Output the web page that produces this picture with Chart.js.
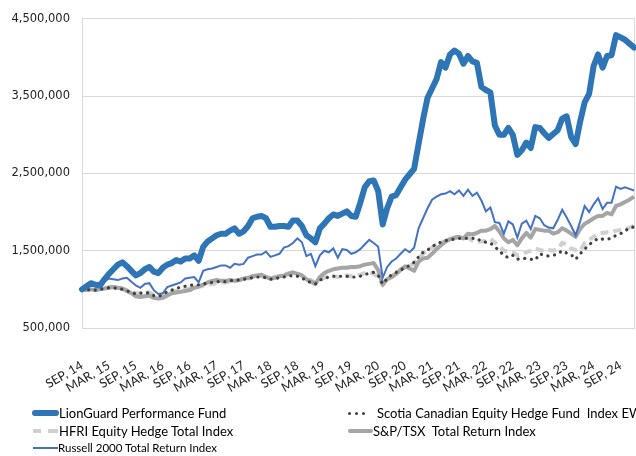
<!DOCTYPE html>
<html><head><meta charset="utf-8">
<script src="https://cdn.jsdelivr.net/npm/chart.js@4"></script>
<style>
html,body{margin:0;padding:0;background:#fff;}
#wrap{position:relative;width:636px;height:456px;overflow:hidden;background:#fff;}
#c{position:absolute;left:0;top:0;}
.lg{position:absolute;font-family:Lato,"Open Sans",sans-serif;font-size:13px;line-height:16px;color:#000;white-space:pre;}
.sm{font-size:11.5px;line-height:14px;}
.sw{position:absolute;}
</style></head><body>
<div id="wrap">
<canvas id="c" width="636" height="456"></canvas>
<div class="sw" style="left:32px;top:410px;width:27px;height:6px;border-radius:3px;background:#2E75B6"></div>
<div class="lg" style="left:59px;top:405px">LionGuard Performance Fund</div>
<div class="sw" style="left:33px;top:429px;width:8px;height:4px;background:#D0D0D0"></div>
<div class="sw" style="left:48px;top:429px;width:10px;height:4px;background:#D0D0D0"></div>
<div class="lg" style="left:59px;top:423px">HFRI Equity Hedge Total Index</div>
<div class="sw" style="left:33px;top:447px;width:25px;height:2px;background:#4472C4"></div>
<div class="lg sm" style="left:58px;top:441px">Russell 2000 Total Return Index</div>
<div class="sw" style="left:348px;top:412px;width:3px;height:3px;border-radius:2px;background:#404040"></div>
<div class="sw" style="left:355px;top:412px;width:3px;height:3px;border-radius:2px;background:#404040"></div>
<div class="sw" style="left:362px;top:412px;width:3px;height:3px;border-radius:2px;background:#404040"></div>
<div class="lg" style="left:377px;top:405px">Scotia Canadian Equity Hedge Fund  Index EW</div>
<div class="sw" style="left:348px;top:429px;width:25px;height:4px;border-radius:2px;background:#A5A5A5"></div>
<div class="lg" style="left:373px;top:423px">S&amp;P/TSX  Total Return Index</div>
</div>
<script>
const months = [
"SEP, 14","OCT, 14","NOV, 14","DEC, 14",
"JAN, 15","FEB, 15","MAR, 15","APR, 15","MAY, 15","JUN, 15","JUL, 15","AUG, 15","SEP, 15","OCT, 15","NOV, 15","DEC, 15",
"JAN, 16","FEB, 16","MAR, 16","APR, 16","MAY, 16","JUN, 16","JUL, 16","AUG, 16","SEP, 16","OCT, 16","NOV, 16","DEC, 16",
"JAN, 17","FEB, 17","MAR, 17","APR, 17","MAY, 17","JUN, 17","JUL, 17","AUG, 17","SEP, 17","OCT, 17","NOV, 17","DEC, 17",
"JAN, 18","FEB, 18","MAR, 18","APR, 18","MAY, 18","JUN, 18","JUL, 18","AUG, 18","SEP, 18","OCT, 18","NOV, 18","DEC, 18",
"JAN, 19","FEB, 19","MAR, 19","APR, 19","MAY, 19","JUN, 19","JUL, 19","AUG, 19","SEP, 19","OCT, 19","NOV, 19","DEC, 19",
"JAN, 20","FEB, 20","MAR, 20","APR, 20","MAY, 20","JUN, 20","JUL, 20","AUG, 20","SEP, 20","OCT, 20","NOV, 20","DEC, 20",
"JAN, 21","FEB, 21","MAR, 21","APR, 21","MAY, 21","JUN, 21","JUL, 21","AUG, 21","SEP, 21","OCT, 21","NOV, 21","DEC, 21",
"JAN, 22","FEB, 22","MAR, 22","APR, 22","MAY, 22","JUN, 22","JUL, 22","AUG, 22","SEP, 22","OCT, 22","NOV, 22","DEC, 22",
"JAN, 23","FEB, 23","MAR, 23","APR, 23","MAY, 23","JUN, 23","JUL, 23","AUG, 23","SEP, 23","OCT, 23","NOV, 23","DEC, 23",
"JAN, 24","FEB, 24","MAR, 24","APR, 24","MAY, 24","JUN, 24","JUL, 24","AUG, 24","SEP, 24","OCT, 24","NOV, 24","DEC, 24"];

const xTickLabels = ["SEP, 14","MAR, 15","SEP, 15","MAR, 16","SEP, 16","MAR, 17","SEP, 17","MAR, 18","SEP, 18","MAR, 19","SEP, 19","MAR, 20","SEP, 20","MAR, 21","SEP, 21","MAR, 22","SEP, 22","MAR, 23","SEP, 23","MAR, 24","SEP, 24"];
const yTickLabels = ["500,000","1,500,000","2,500,000","3,500,000","4,500,000"];

// values in millions
const lionGuard = [
1.00,1.04,1.08,1.06,1.05,1.13,1.20,1.26,1.32,1.35,
1.30,1.24,1.18,1.21,1.26,1.29,1.23,1.21,1.28,1.32,
1.34,1.38,1.36,1.40,1.40,1.44,1.37,1.55,1.62,1.66,
1.70,1.72,1.72,1.76,1.79,1.72,1.75,1.82,1.92,1.94,
1.95,1.92,1.81,1.81,1.82,1.82,1.81,1.89,1.89,1.82,
1.70,1.66,1.61,1.79,1.85,1.92,1.97,1.95,1.98,2.01,
1.95,1.94,2.12,2.32,2.40,2.41,2.27,1.84,2.05,2.20,
2.22,2.32,2.42,2.49,2.56,2.88,3.20,3.48,3.60,3.72,
3.94,3.87,4.04,4.09,4.05,3.92,4.02,3.95,3.93,3.62,
3.58,3.55,3.12,3.00,3.00,3.09,3.00,2.74,2.80,2.90,
2.83,3.10,3.09,3.02,2.96,3.01,3.06,3.21,3.24,2.97,
2.88,3.17,3.42,3.53,3.89,4.04,3.87,4.02,4.03,4.29,
4.26,4.23,4.18,4.13];

const scotia = [
1.00,0.99,1.00,0.99,1.00,1.01,1.02,1.02,1.01,1.00,
0.98,0.96,0.94,0.95,0.96,0.95,0.92,0.91,0.93,0.97,
0.99,1.01,1.03,1.04,1.05,1.06,1.06,1.07,1.08,1.09,
1.10,1.10,1.10,1.11,1.12,1.12,1.13,1.14,1.15,1.16,
1.16,1.15,1.13,1.14,1.15,1.16,1.17,1.18,1.17,1.15,
1.11,1.09,1.07,1.12,1.14,1.16,1.17,1.17,1.17,1.17,
1.16,1.16,1.17,1.19,1.21,1.22,1.18,1.07,1.14,1.19,
1.22,1.25,1.28,1.31,1.35,1.42,1.48,1.51,1.55,1.59,
1.61,1.63,1.64,1.65,1.66,1.66,1.66,1.66,1.66,1.62,
1.61,1.60,1.55,1.50,1.44,1.41,1.44,1.39,1.40,1.40,
1.39,1.38,1.46,1.44,1.43,1.44,1.46,1.50,1.47,1.45,
1.39,1.46,1.52,1.58,1.62,1.66,1.65,1.65,1.66,1.70,
1.72,1.76,1.79,1.81];

const hfri = [
1.00,1.00,1.01,1.00,1.01,1.02,1.03,1.03,1.02,1.01,
0.99,0.97,0.95,0.95,0.96,0.96,0.93,0.92,0.93,0.95,
0.97,0.98,0.99,1.00,1.01,1.02,1.03,1.05,1.06,1.07,
1.08,1.09,1.09,1.10,1.11,1.12,1.13,1.14,1.16,1.18,
1.17,1.16,1.15,1.16,1.17,1.19,1.21,1.22,1.21,1.18,
1.14,1.12,1.08,1.13,1.15,1.17,1.17,1.16,1.17,1.18,
1.17,1.18,1.19,1.21,1.22,1.20,1.16,1.06,1.12,1.17,
1.22,1.26,1.28,1.30,1.34,1.40,1.46,1.50,1.54,1.58,
1.60,1.63,1.65,1.66,1.67,1.66,1.67,1.63,1.61,1.62,
1.63,1.65,1.61,1.56,1.50,1.49,1.48,1.44,1.46,1.48,
1.50,1.53,1.51,1.50,1.51,1.50,1.52,1.60,1.58,1.53,
1.51,1.50,1.60,1.64,1.68,1.72,1.73,1.74,1.74,1.76,
1.77,1.78,1.80,1.82];

const tsx = [
1.00,0.99,1.00,0.99,1.00,1.01,1.02,1.03,1.02,1.01,
0.98,0.95,0.91,0.90,0.91,0.92,0.89,0.88,0.89,0.92,
0.95,0.96,0.97,0.98,0.99,1.02,1.04,1.06,1.09,1.11,
1.12,1.11,1.11,1.12,1.11,1.12,1.14,1.15,1.17,1.18,
1.19,1.16,1.14,1.15,1.17,1.18,1.20,1.22,1.20,1.18,
1.13,1.10,1.07,1.16,1.21,1.24,1.26,1.27,1.28,1.28,
1.29,1.29,1.30,1.32,1.33,1.34,1.25,1.06,1.13,1.16,
1.20,1.25,1.30,1.27,1.24,1.36,1.40,1.41,1.46,1.52,
1.57,1.62,1.65,1.67,1.68,1.66,1.72,1.71,1.73,1.76,
1.76,1.78,1.82,1.75,1.66,1.61,1.64,1.57,1.66,1.73,
1.67,1.78,1.77,1.76,1.76,1.72,1.74,1.79,1.76,1.72,
1.68,1.78,1.85,1.88,1.92,1.95,1.95,1.99,1.97,2.08,
2.10,2.13,2.16,2.20];

const russell = [
1.00,1.03,1.06,1.05,1.03,1.11,1.14,1.13,1.12,1.14,
1.15,1.10,1.05,1.02,1.07,1.08,0.99,0.94,0.95,1.03,
1.05,1.07,1.09,1.14,1.15,1.16,1.09,1.24,1.26,1.27,
1.29,1.31,1.31,1.28,1.33,1.32,1.33,1.41,1.43,1.45,
1.45,1.49,1.42,1.44,1.46,1.54,1.56,1.60,1.66,1.61,
1.43,1.46,1.30,1.44,1.50,1.48,1.53,1.41,1.52,1.51,
1.46,1.48,1.52,1.58,1.64,1.60,1.55,1.15,1.29,1.36,
1.40,1.46,1.52,1.48,1.54,1.79,1.92,2.05,2.16,2.20,
2.23,2.24,2.27,2.23,2.28,2.21,2.29,2.21,2.25,2.15,
2.01,2.06,1.87,1.86,1.72,1.88,1.84,1.67,1.85,1.89,
1.78,1.95,1.92,1.83,1.80,1.79,1.90,2.03,1.93,1.82,
1.70,1.88,2.08,2.00,2.10,2.18,2.04,2.12,2.12,2.33,
2.30,2.32,2.30,2.28];

const gridColor = '#D9D9D9';

new Chart(document.getElementById('c'), {
  type: 'line',
  data: {
    labels: months,
    datasets: [
      {label:'LionGuard Performance Fund', data: lionGuard, borderColor:'#2E75B6', borderWidth:6, order:0, borderJoinStyle:'round', borderCapStyle:'round'},
      {label:'Russell 2000 Total Return Index', data: russell, borderColor:'#4472C4', borderWidth:2, order:1},
      {label:'Scotia Canadian Equity Hedge Fund  Index EW', data: scotia, borderColor:'#404040', borderWidth:3.2, borderDash:[0.1,6.6], borderCapStyle:'round', order:2},
      {label:'S&P/TSX  Total Return Index', data: tsx, borderColor:'#A5A5A5', borderWidth:4, order:3, borderJoinStyle:'round'},
      {label:'HFRI Equity Hedge Total Index', data: hfri, borderColor:'#D0D0D0', borderWidth:4, borderDash:[8,5], order:4}
    ]
  },
  options: {
    responsive:false, animation:false, devicePixelRatio:1,
    elements:{ point:{radius:0, hoverRadius:0}, line:{tension:0, fill:false} },
    layout:{ padding:{top:16, right:2, left:0, bottom:0} },
    plugins:{ legend:{display:false}, tooltip:{enabled:false} },
    scales:{
      x:{
        grid:{display:false, drawTicks:false},
        border:{display:false},
        ticks:{
          autoSkip:false, minRotation:30, maxRotation:30, padding:30,
          color:'#222', font:{family:'Lato', size:12.5},
          callback:function(v){ const l = this.getLabelForValue(v); return xTickLabels.includes(l) ? l : ''; }
        },
        afterFit:function(s){ s.height = 128; s.paddingLeft = 0; s.paddingRight = 0; }
      },
      y:{
        min:0.5, max:4.5,
        grid:{color:gridColor, lineWidth:1, drawTicks:false},
        border:{display:true, color:gridColor},
        ticks:{
          stepSize:1, padding:12, color:'#222', font:{family:'DejaVu Sans', size:11.5},
          callback:function(v){ const idx = Math.round(v - 0.5); return yTickLabels[idx] !== undefined ? yTickLabels[idx] : ''; }
        },
        afterFit:function(s){ s.width = 82; }
      },
      y2:{
        position:'right', min:0.5, max:4.5,
        grid:{display:false, drawTicks:false},
        border:{display:true, color:gridColor},
        ticks:{display:false},
        afterFit:function(s){ s.width = 0; }
      }
    }
  }
});
</script>
</body></html>
